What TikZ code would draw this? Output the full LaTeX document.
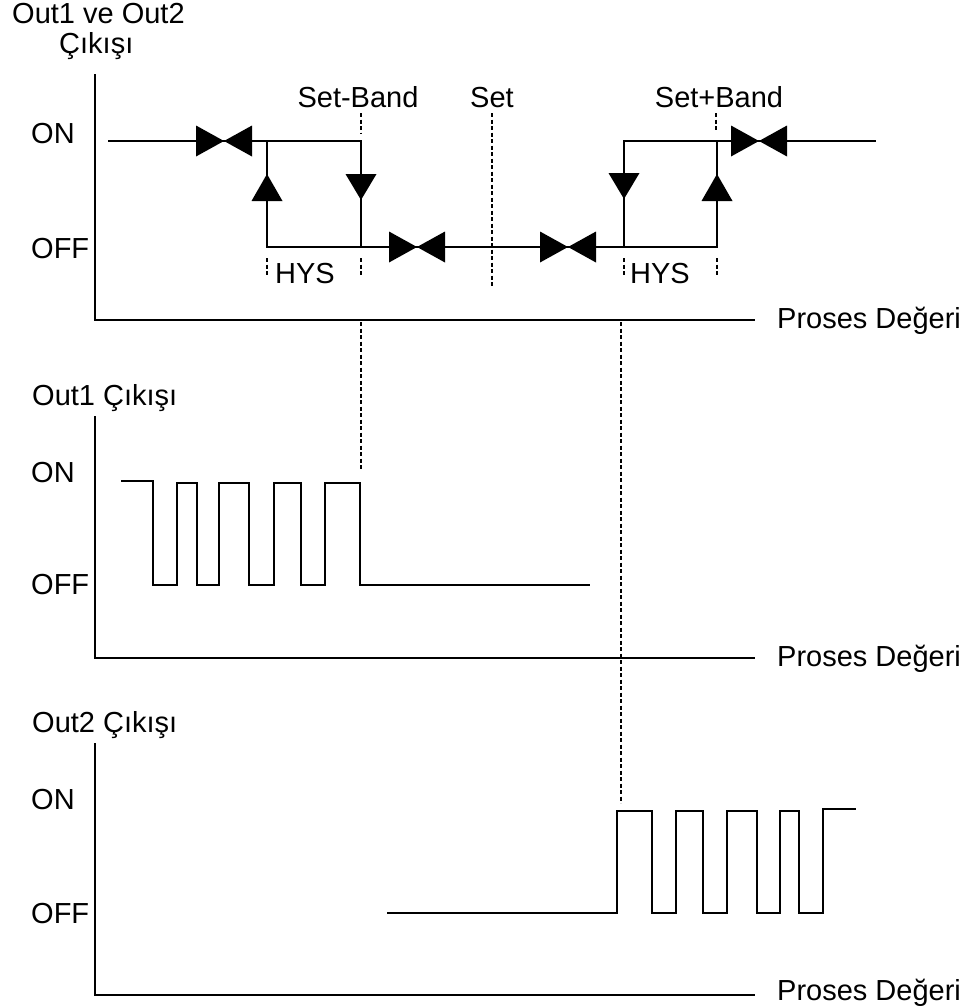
\documentclass[tikz,border=0pt]{standalone}
\usepackage{fontspec}
\setmainfont{Liberation Sans}
\begin{document}
\begin{tikzpicture}[x=1pt,y=-1pt,
  axis/.style={line width=2.2pt},
  curve/.style={line width=2.2pt},
  pulse/.style={line width=1.7pt},
  guide/.style={line width=2pt,dash pattern=on 4pt off 2.5pt},
  lbl/.style={inner sep=0pt,font=\fontsize{29}{33}\selectfont},
  bowtie/.pic={\fill (-28,-15.5) -- (0,0) -- (-28,15.5) -- cycle;
               \fill (28,-15.5) -- (0,0) -- (28,15.5) -- cycle;},
  uparrowhead/.pic={\fill (0,0) -- (-15.5,27) -- (15.5,27) -- cycle;},
  downarrowhead/.pic={\fill (0,0) -- (-15.5,-26) -- (15.5,-26) -- cycle;}]
\useasboundingbox (0,0) rectangle (969,1007);

% ---------- top chart ----------
\coordinate (o1) at (95,320);
\draw[axis] (95,74) -- (o1) -- (755,320);
\node[lbl,anchor=base west] (t1a) at (12,23) {Out1 ve Out2};
\node[lbl,anchor=base west] (t1b) at (59,53) {Çıkışı};
\node[lbl,anchor=base west] (on1) at (31,143) {ON};
\node[lbl,anchor=base west] (off1) at (31,258) {OFF};
\node[lbl,anchor=base west] (pd1) at (777,328) {Proses Değeri};
\node[lbl,anchor=base] (sb) at (358,107) {Set-Band};
\node[lbl,anchor=base] (st) at (492,107) {Set};
\node[lbl,anchor=base] (spb) at (719,107) {Set+Band};
\node[lbl,anchor=base west] (hys1) at (275,283) {HYS};
\node[lbl,anchor=base west] (hys2) at (630,283) {HYS};

\coordinate (a1) at (267,141); \coordinate (a2) at (361,141);
\coordinate (a3) at (267,247); \coordinate (a4) at (361,247);
\coordinate (b1) at (624,141); \coordinate (b2) at (717,141);
\coordinate (b3) at (624,247); \coordinate (b4) at (717,247);
\draw[curve] (108,141) -- (a2) -- (a4);
\draw[curve] (a1) -- (a3) -- (b4) -- (b2);
\draw[curve] (b3) -- (b1) -- (876,141);

\pic at (224,141) {bowtie};
\pic at (417,247) {bowtie};
\pic at (568,247) {bowtie};
\pic at (759,141) {bowtie};
\pic at (267,174) {uparrowhead};
\pic at (361,200) {downarrowhead};
\pic at (624,199) {downarrowhead};
\pic at (717,174) {uparrowhead};

\draw[guide] (361,113) -- (361,133);
\draw[guide] (492,113) -- (492,288);
\draw[guide] (716,113) -- (716,132);
\draw[guide] (267,258) -- (267,277);
\draw[guide] (361,258) -- (361,277);
\draw[guide] (624,258) -- (624,277);
\draw[guide] (717,258) -- (717,277);

% ---------- Out1 chart ----------
\draw[axis] (95,416) -- (95,658) -- (755,658);
\node[lbl,anchor=base west] (t2) at (32,405) {Out1 Çıkışı};
\node[lbl,anchor=base west] (on2) at (31,482) {ON};
\node[lbl,anchor=base west] (off2) at (31,594) {OFF};
\node[lbl,anchor=base west] (pd2) at (777,666) {Proses Değeri};
\draw[pulse] (121,481) -- (153,481) -- (153,585) -- (177,585) -- (177,483)
  -- (197,483) -- (197,585) -- (219,585) -- (219,483) -- (249,483)
  -- (249,585) -- (274,585) -- (274,483) -- (301,483) -- (301,585)
  -- (325,585) -- (325,483) -- (360,483) -- (360,585) -- (590,585);
\draw[guide] (361,322) -- (361,470);

% ---------- Out2 chart ----------
\draw[axis] (95,743) -- (95,995) -- (755,995);
\node[lbl,anchor=base west] (t3) at (32,732) {Out2 Çıkışı};
\node[lbl,anchor=base west] (on3) at (31,809) {ON};
\node[lbl,anchor=base west] (off3) at (31,923) {OFF};
\node[lbl,anchor=base west] (pd3) at (777,1000) {Proses Değeri};
\draw[pulse] (387,913) -- (617,913) -- (617,811) -- (652,811) -- (652,913)
  -- (676,913) -- (676,811) -- (703,811) -- (703,913) -- (727,913)
  -- (727,811) -- (757,811) -- (757,913) -- (780,913) -- (780,811)
  -- (799,811) -- (799,913) -- (823,913) -- (823,809) -- (856,809);
\draw[guide] (621,322) -- (621,803);
\end{tikzpicture}
\end{document}
